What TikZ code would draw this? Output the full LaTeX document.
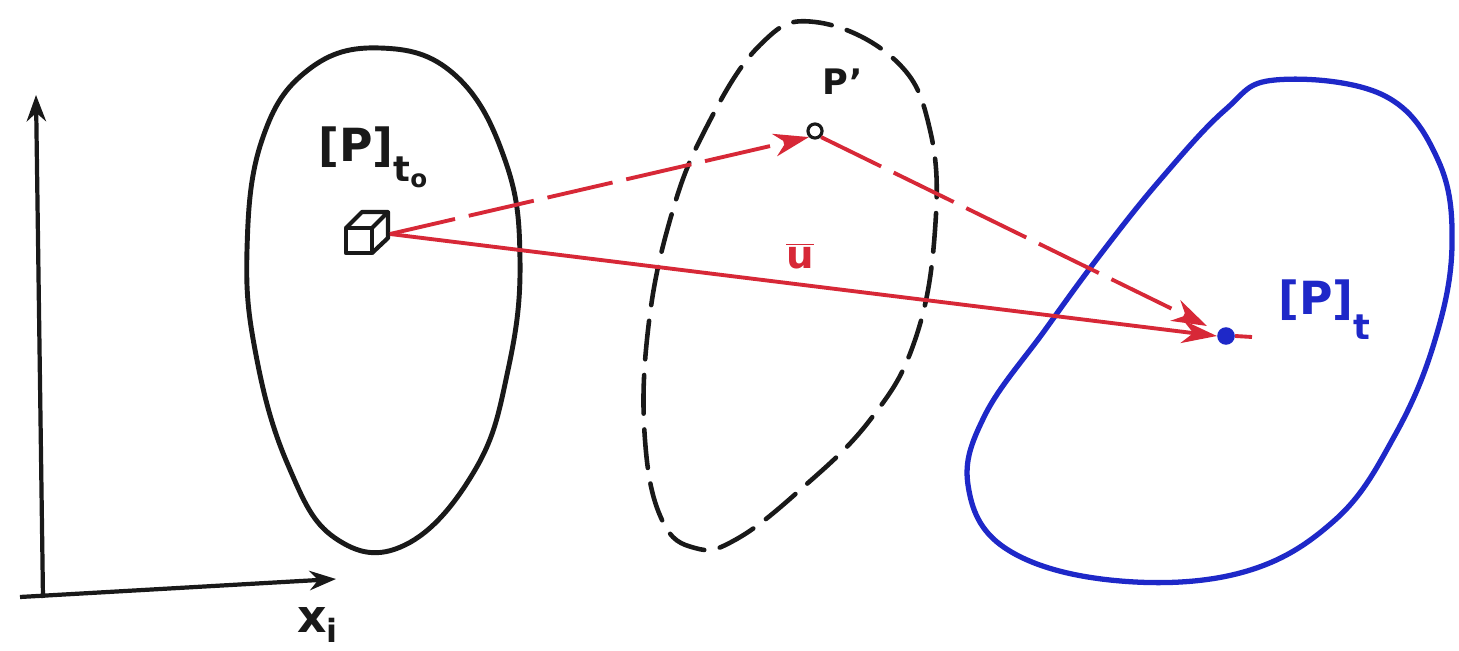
\documentclass[tikz,border=0pt]{standalone}
\usepackage{fontspec}
\setsansfont{DejaVu Sans}
\usetikzlibrary{arrows.meta}
\definecolor{myred}{RGB}{215,40,55}
\definecolor{myblue}{RGB}{30,40,200}
\definecolor{ink}{RGB}{25,25,25}
\begin{document}
\begin{tikzpicture}[x=0.02cm,y=-0.02cm,
  blob/.style={draw=ink,line width=2.8pt,line join=round},
  dblob/.style={draw=ink,line width=2.6pt,dash pattern=on 22pt off 9pt,line cap=round},
  bblob/.style={draw=myblue,line width=3pt,line join=round},
  axis/.style={draw=ink,line width=2.4pt,-{Stealth[length=15pt,width=11pt]}},
  redarrow/.style={draw=myred,line width=2.2pt,-{Stealth[length=20pt,width=13pt]}},
  reddash/.style={redarrow,dash pattern=on 38pt off 8pt},
  lab/.style={font=\sffamily\bfseries\fontsize{26}{30}\selectfont,inner sep=0pt}]
\useasboundingbox (0,0) rectangle (1459,651);
\fill[white] (0,0) rectangle (1459,651);

% axes
\coordinate (o1) at (43,598);
\coordinate (ytip) at (36,95);
\coordinate (o2) at (20,597);
\coordinate (xtip) at (336,579);
\draw[axis] (o1) -- (ytip);
\draw[axis] (o2) -- (xtip);
\node[lab,text=ink] (xi) at (318,625) {x\textsubscript{i}};

% black blob
\draw[blob] plot[smooth cycle,tension=0.7] coordinates {
 (380,48) (455,75) (505,160) (520,260) (508,370) (475,470) (405,545)
 (335,538) (288,465) (256,355) (247,250) (262,140) (308,70)};

% dashed blob
\draw[dblob] plot[smooth cycle,tension=0.7] coordinates {
 (815,22) (895,60) (930,130) (935,230) (915,340) (870,420) (800,490)
 (735,540) (695,548) (662,520) (645,440) (648,330) (670,220) (705,130) (760,45)};

% blue blob
\draw[bblob] plot[smooth cycle,tension=0.65] coordinates {
 (1275,80) (1383,95) (1438,160) (1452,245) (1435,340) (1395,435) (1335,520)
 (1240,573) (1110,580) (1005,548) (968,485) (985,415) (1045,330) (1100,255)
 (1160,180) (1225,110)};

% cube
\coordinate (cube) at (372,240);
\begin{scope}[draw=ink,line width=2.4pt,line join=round]
 \draw (346,228) rectangle (372,253);
 \draw (346,228) -- (362,212) -- (388,212) -- (372,228);
 \draw (388,212) -- (388,238) -- (372,253);
\end{scope}
\coordinate (cubeR) at (390,234);
\node[lab,text=ink,anchor=west] (pt0) at (318,157) {[P]\raisebox{-0.45em}{\fontsize{20}{22}\selectfont t\raisebox{-0.15em}{\fontsize{14}{16}\selectfont o}}};

% P'
\node[draw=ink,circle,line width=1.8pt,minimum size=8pt,inner sep=0pt] (pp) at (815,131) {};
\node[lab,text=ink,font=\sffamily\bfseries\fontsize{20}{24}\selectfont] (pplab) at (843,82) {P'};

% P_t
\node[fill=myblue,circle,minimum size=10pt,inner sep=0pt] (pt) at (1226,336) {};
\coordinate (tail) at (1252,337);
\node[lab,text=myblue,anchor=west] (ptlab) at (1278,310) {[P]\raisebox{-0.55em}{\fontsize{20}{22}\selectfont t}};

% red arrows
\draw[reddash] (cubeR) -- (pp.south west);
\draw[reddash] (pp.south east) -- (1207,326);
\draw[redarrow] (cubeR) -- (pt.west);
\draw[draw=myred,line width=2.2pt] (pt.east) -- (tail);
\node[lab,text=myred,font=\sffamily\bfseries\fontsize{22}{26}\selectfont] (u) at (800,256) {$\overline{\mbox{u}}$};
\end{tikzpicture}
\end{document}
